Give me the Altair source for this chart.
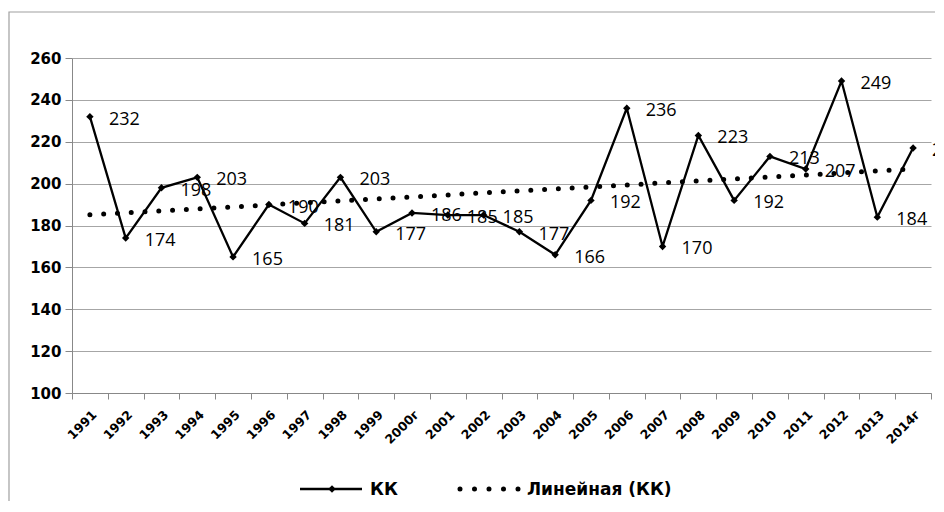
import altair as alt
import pandas as pd
import numpy as np

years = ["1991", "1992", "1993", "1994", "1995", "1996", "1997", "1998", "1999", "2000г",
         "2001", "2002", "2003", "2004", "2005", "2006", "2007", "2008", "2009", "2010",
         "2011", "2012", "2013", "2014г"]
values = [232, 174, 198, 203, 165, 190, 181, 203, 177, 186,
          185, 185, 177, 166, 192, 236, 170, 223, 192, 213,
          207, 249, 184, 217]
y_ticks = [100, 120, 140, 160, 180, 200, 220, 240, 260]
series_name = "КК"
trend_name = "Линейная (КК)"

idx = np.arange(len(values))
slope, intercept = np.polyfit(idx, np.array(values, dtype=float), 1)
trend = list(intercept + slope * idx)

df = pd.DataFrame({"year": years, "value": values, "trend": trend})

W, H = 859, 335
xenc = alt.X("year:N", sort=years, scale=alt.Scale(paddingInner=0, paddingOuter=0),
             axis=alt.Axis(title=None, labelAngle=-45, tickBand="extent", tickSize=6,
                           labelFontSize=12.5, labelPadding=9, domainColor="#888888",
                           tickColor="#888888", grid=False))
yscale = alt.Scale(domain=[100, 260], nice=False, zero=False)

base = alt.Chart(df)

frame = alt.Chart(pd.DataFrame({"a": [0]})).mark_rect(
    fill="white", fillOpacity=0, stroke="#A0A0A0", strokeWidth=1.2
).encode(x=alt.value(-63), x2=alt.value(960), y=alt.value(-46), y2=alt.value(520))

yaxis = alt.Axis(title=None, values=y_ticks, tickSize=7, labelFontSize=15, labelPadding=4,
                 gridColor="#A6A6A6", gridWidth=1.2, domainColor="#888888", tickColor="#888888")

trend_line = base.mark_line(color="black", strokeWidth=5, strokeCap="round",
                            strokeDash=[0, 13.8]).encode(
    x=xenc, y=alt.Y("trend:Q", scale=yscale, axis=yaxis))

line = base.mark_line(color="black", strokeWidth=2.3).encode(
    x=xenc, y=alt.Y("value:Q", scale=yscale))
pts = base.mark_point(shape="diamond", filled=True, color="black", size=55, opacity=1).encode(
    x=xenc, y=alt.Y("value:Q", scale=yscale))
labels = base.mark_text(align="left", baseline="middle", dx=19, dy=3, font="Open Sans",
                        fontSize=18, color="black").encode(
    x=xenc, y=alt.Y("value:Q", scale=yscale), text="value:Q")

one = pd.DataFrame({"a": [0]})
leg_line = alt.Chart(one).mark_rule(color="black", strokeWidth=2.3).encode(
    x=alt.value(228), x2=alt.value(290), y=alt.value(431))
leg_pt = alt.Chart(one).mark_point(shape="diamond", filled=True, color="black", size=55,
                                   opacity=1).encode(x=alt.value(260), y=alt.value(431))
leg_txt1 = alt.Chart(one).mark_text(text=series_name, align="left", baseline="middle",
                                    font="DejaVu Sans", fontWeight="bold", fontSize=17,
                                    color="black").encode(x=alt.value(298), y=alt.value(432))
leg_dots = alt.Chart(one).mark_rule(color="black", strokeWidth=5, strokeCap="round",
                                    strokeDash=[0, 14.5]).encode(
    x=alt.value(388), x2=alt.value(447), y=alt.value(431))
leg_txt2 = alt.Chart(one).mark_text(text=trend_name, align="left", baseline="middle",
                                    font="DejaVu Sans", fontWeight="bold", fontSize=17,
                                    color="black").encode(x=alt.value(455), y=alt.value(432))

chart = alt.layer(frame, trend_line, line, pts, labels, leg_line, leg_pt, leg_txt1,
                  leg_dots, leg_txt2).properties(
    width=W, height=H,
    autosize=alt.AutoSizeParams(type="none"),
    padding={"left": 64, "top": 50, "right": 4, "bottom": 108},
).configure_view(stroke=None).configure_axis(
    labelFont="DejaVu Sans", labelFontWeight="bold", labelColor="black"
)

chart.save("out.html", embed_options={"renderer": "svg", "actions": False})
